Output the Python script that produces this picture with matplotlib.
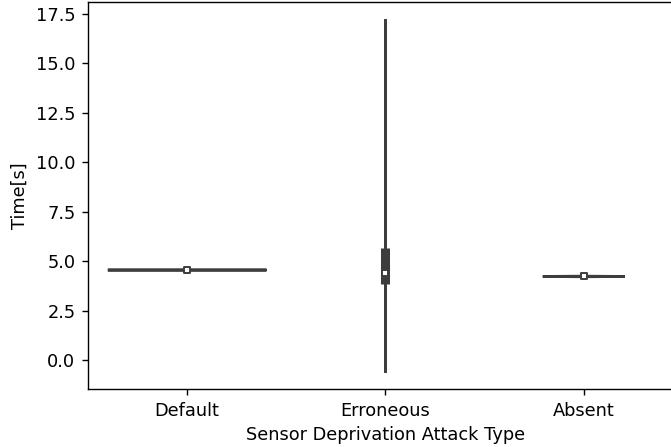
import matplotlib.pyplot as plt

# Summary of attack completion times per sensor deprivation type
categories = ['Default', 'Erroneous', 'Absent']
low = [4.53, -0.60, 4.21]        # lower end of each violin
high = [4.57, 17.25, 4.24]       # upper end of each violin
peak = [4.55, 4.42, 4.225]       # where the density is widest
half_width = [0.40, 0.0, 0.207]
q1 = [4.545, 3.84, 4.215]
median = [4.55, 4.42, 4.225]
q3 = [4.555, 5.65, 4.235]

gray = '#3d3d3d'

fig = plt.figure(figsize=(6.71, 4.47), dpi=100)
ax = fig.add_axes([88 / 671, 58 / 447, 595 / 671, 387 / 447])

for i, name in enumerate(categories):
    # thin violin outline: bottom, widest left, top, widest right
    xs = [i, i - half_width[i], i, i + half_width[i]]
    ys = [low[i], peak[i], high[i], peak[i]]
    ax.fill(xs, ys, facecolor=gray, edgecolor=gray, linewidth=2.0, zorder=1)
    # inner box
    ax.vlines(i, low[i], high[i], color=gray, linewidth=2.0, zorder=2)
    ax.vlines(i, q1[i], q3[i], color=gray, linewidth=6.5, zorder=2)
    ax.scatter(i, median[i], s=14, marker='s', color='white', edgecolor=gray,
               linewidth=1.4, zorder=3)

ax.set_xlim(-0.5, 2.5)
ax.set_ylim(-1.467, 18.107)
ax.set_xticks(range(len(categories)))
ax.set_xticklabels(categories)
ax.set_yticks([0.0, 2.5, 5.0, 7.5, 10.0, 12.5, 15.0, 17.5])
ax.tick_params(labelsize=12.8, length=4.5, width=1.0, pad=4.5)
for side in ax.spines.values():
    side.set_linewidth(1.0)
ax.spines['right'].set_visible(False)
ax.set_xlabel('Sensor Deprivation Attack Type', fontsize=12.8, labelpad=5)
ax.set_ylabel('Time[s]', fontsize=12.8, labelpad=5)

fig.savefig('out.png', dpi=100)
